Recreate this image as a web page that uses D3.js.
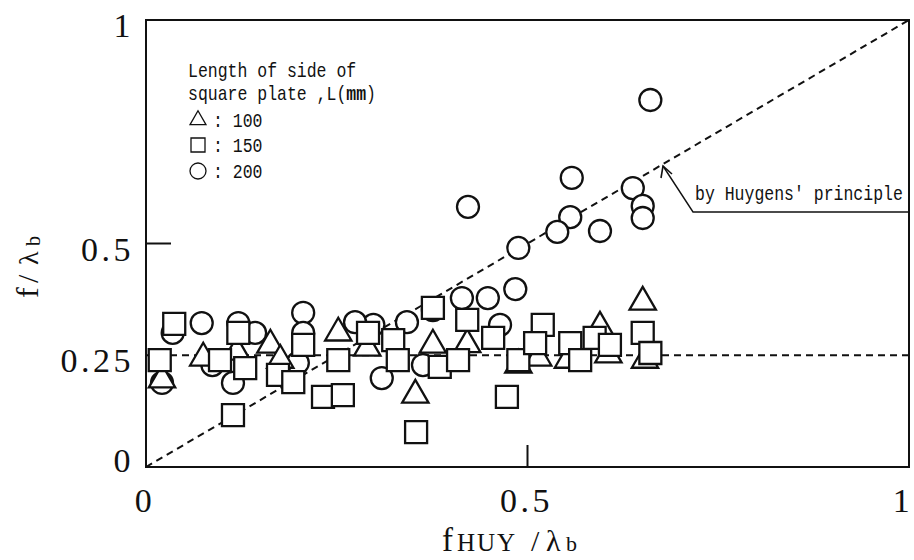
<!DOCTYPE html>
<html>
<head>
<meta charset="utf-8">
<script src="https://cdn.jsdelivr.net/npm/d3@7"></script>
<style>
  html, body { margin: 0; padding: 0; background: #fff; }
  svg { display: block; }
</style>
</head>
<body>
<svg id="chart" width="914" height="560"></svg>
<script>
// ---- data ----
const circleX = [0.661, 0.558, 0.422, 0.638, 0.651, 0.651, 0.556, 0.539, 0.595, 0.488,
                 0.484, 0.414, 0.448, 0.376, 0.464, 0.342, 0.298, 0.274, 0.206, 0.206,
                 0.143, 0.121, 0.073, 0.035, 0.087, 0.199, 0.114, 0.021, 0.309, 0.363];
const circleY = [0.821, 0.647, 0.582, 0.624, 0.584, 0.557, 0.559, 0.526, 0.528, 0.490,
                 0.398, 0.378, 0.378, 0.351, 0.318, 0.324, 0.318, 0.324, 0.345, 0.300,
                 0.300, 0.322, 0.322, 0.300, 0.228, 0.233, 0.188, 0.188, 0.199, 0.228];

const triangleX = [0.021, 0.075, 0.119, 0.163, 0.176, 0.252, 0.290, 0.376, 0.421, 0.488,
                   0.514, 0.553, 0.595, 0.606, 0.651, 0.654, 0.353];
const triangleY = [0.195, 0.244, 0.257, 0.273, 0.239, 0.300, 0.266, 0.273, 0.274, 0.228,
                   0.244, 0.239, 0.313, 0.251, 0.369, 0.239, 0.161];

const squareX = [0.037, 0.121, 0.206, 0.291, 0.376, 0.324, 0.018, 0.097, 0.130, 0.173,
                 0.193, 0.252, 0.330, 0.385, 0.232, 0.258, 0.114, 0.354, 0.421, 0.455,
                 0.409, 0.488, 0.520, 0.510, 0.556, 0.569, 0.588, 0.608, 0.651, 0.661, 0.473];
const squareY = [0.320, 0.300, 0.273, 0.300, 0.356, 0.284, 0.239, 0.239, 0.221, 0.206,
                 0.190, 0.239, 0.239, 0.224, 0.157, 0.161, 0.116, 0.078, 0.329, 0.289,
                 0.239, 0.239, 0.318, 0.277, 0.277, 0.239, 0.289, 0.273, 0.300, 0.255, 0.157];

const xTicks = [0, 0.5, 1];
const xTickLabels = ["0", "0.5", "1"];
const yTicks = [0, 0.25, 0.5, 1];
const yTickLabels = ["0", "0.25", "0.5", "1"];
const legendLabels = ["100", "150", "200"];
const huygensLine = [[0, 0], [1, 1]];
const referenceLevel = 0.25;

// ---- layout ----
const svg = d3.select("#chart");
const pLeft = 146, pRight = 909, pTop = 20, pBottom = 467;
const x = d3.scaleLinear().domain([0, 1]).range([pLeft, pRight]);
const y = d3.scaleLinear().domain([0, 1]).range([pBottom, pTop]);

const serif = "'Liberation Serif', 'DejaVu Serif', serif";
const mono = "'Liberation Mono', 'DejaVu Sans Mono', monospace";

// dashed reference lines (under markers)
svg.append("path")
  .attr("d", d3.line().x(d => x(d[0])).y(d => y(d[1]))(huygensLine))
  .attr("fill", "none").attr("stroke", "#111").attr("stroke-width", 2)
  .attr("stroke-dasharray", "7,5");
svg.append("line")
  .attr("x1", x(0)).attr("x2", x(1))
  .attr("y1", y(referenceLevel)).attr("y2", y(referenceLevel))
  .attr("stroke", "#111").attr("stroke-width", 2).attr("stroke-dasharray", "7,5");

// markers
const mk = svg.append("g").attr("fill", "#fff").attr("stroke", "#111").attr("stroke-width", 2.3);
const circ = d3.symbol().type(d3.symbolCircle).size(Math.PI * 11 * 11)();
const tri = d3.symbol().type(d3.symbolTriangle).size(300)();
const sq = d3.symbol().type(d3.symbolSquare).size(22 * 22)();

mk.selectAll("path.c").data(d3.range(circleX.length)).join("path").attr("class", "c")
  .attr("d", circ)
  .attr("transform", i => `translate(${x(circleX[i])},${y(circleY[i])})`);
mk.selectAll("path.t").data(d3.range(triangleX.length)).join("path").attr("class", "t")
  .attr("d", tri)
  .attr("transform", i => `translate(${x(triangleX[i])},${y(triangleY[i])})`);
mk.selectAll("path.s").data(d3.range(squareX.length)).join("path").attr("class", "s")
  .attr("d", sq)
  .attr("transform", i => `translate(${x(squareX[i])},${y(squareY[i])})`);

// frame
svg.append("rect")
  .attr("x", pLeft).attr("y", pTop).attr("width", pRight - pLeft).attr("height", pBottom - pTop)
  .attr("fill", "none").attr("stroke", "#111").attr("stroke-width", 2);

// inner ticks at 0.5
svg.append("line").attr("x1", pLeft).attr("x2", pLeft + 25)
  .attr("y1", y(0.5)).attr("y2", y(0.5)).attr("stroke", "#111").attr("stroke-width", 2);
svg.append("line").attr("x1", x(0.5)).attr("x2", x(0.5))
  .attr("y1", pBottom).attr("y2", pBottom - 22).attr("stroke", "#111").attr("stroke-width", 2);

// tick labels
svg.append("g").selectAll("text").data(yTicks).join("text")
  .attr("x", 134)
  .attr("y", d => Math.min(y(d) + 17, y(0) + 5))
  .attr("text-anchor", "end")
  .attr("font-family", serif).attr("font-size", 34).attr("letter-spacing", 3.5)
  .attr("fill", "#111")
  .text((d, i) => yTickLabels[i]);

svg.append("g").selectAll("text").data(xTicks).join("text")
  .attr("x", d => Math.min(x(d) - 1, 903))
  .attr("y", 512)
  .attr("text-anchor", "middle")
  .attr("font-family", serif).attr("font-size", 34).attr("letter-spacing", 3.5)
  .attr("fill", "#111")
  .text((d, i) => xTickLabels[i]);

// x-axis title  f_HUY / λ_b
const xt = svg.append("text").attr("y", 551).attr("font-family", serif).attr("fill", "#111");
xt.append("tspan").attr("x", 442).attr("font-size", 33).text("f");
xt.append("tspan").attr("x", 457).attr("font-size", 25).attr("letter-spacing", 2).text("HUY");
xt.append("tspan").attr("x", 531).attr("font-size", 30).text("/");
xt.append("tspan").attr("x", 546).attr("font-size", 30).text("λ");
xt.append("tspan").attr("x", 566).attr("font-size", 22).text("b");

// y-axis title  f / λ_b (rotated)
const yt = svg.append("text").attr("transform", "translate(38,298) rotate(-90)")
  .attr("font-family", serif).attr("fill", "#111");
yt.append("tspan").attr("x", 0).attr("y", 0).attr("font-size", 32).text("f");
yt.append("tspan").attr("x", 15).attr("y", 0).attr("font-size", 30).text("/");
yt.append("tspan").attr("x", 33).attr("y", 0).attr("font-size", 28).text("λ");
yt.append("tspan").attr("x", 52).attr("y", 2).attr("font-size", 20).text("b");

// legend (tall, condensed monospace look)
const lg = svg.append("g").attr("font-family", mono).attr("font-size", 16.5).attr("fill", "#111");
lg.append("text").attr("transform", "translate(188,77) scale(1,1.22)").text("Length of side of");
const l2 = lg.append("text").attr("transform", "translate(188,100) scale(1,1.22)");
l2.append("tspan").text("square plate ,L(");
l2.append("tspan").attr("font-weight", "bold").text("mm");
l2.append("tspan").text(")");
const legSyms = [
  d3.symbol().type(d3.symbolTriangle).size(110)(),
  d3.symbol().type(d3.symbolSquare).size(14 * 14)(),
  d3.symbol().type(d3.symbolCircle).size(Math.PI * 8 * 8)()
];
const legBase = [127, 152, 178];
legendLabels.forEach((lab, i) => {
  lg.append("path").attr("d", legSyms[i])
    .attr("transform", `translate(198,${legBase[i] - 7})`)
    .attr("fill", "none").attr("stroke", "#111").attr("stroke-width", 1.3);
  lg.append("text").attr("transform", `translate(213,${legBase[i]}) scale(1,1.22)`).text(": " + lab);
});

// annotation
svg.append("text").attr("transform", "translate(695,200) scale(1,1.2)")
  .attr("font-family", mono).attr("font-size", 16.5).attr("fill", "#111")
  .text("by Huygens' principle");
const ax = 663, ay = 166;
svg.append("path")
  .attr("d", `M${ax},${ay} L693,212 L${pRight},212`)
  .attr("fill", "none").attr("stroke", "#111").attr("stroke-width", 1.4);
svg.append("path")
  .attr("d", `M${ax - 2},${ay + 12} L${ax},${ay} L${ax + 9},${ay + 8}`)
  .attr("fill", "none").attr("stroke", "#111").attr("stroke-width", 1.6);
</script>
</body>
</html>
